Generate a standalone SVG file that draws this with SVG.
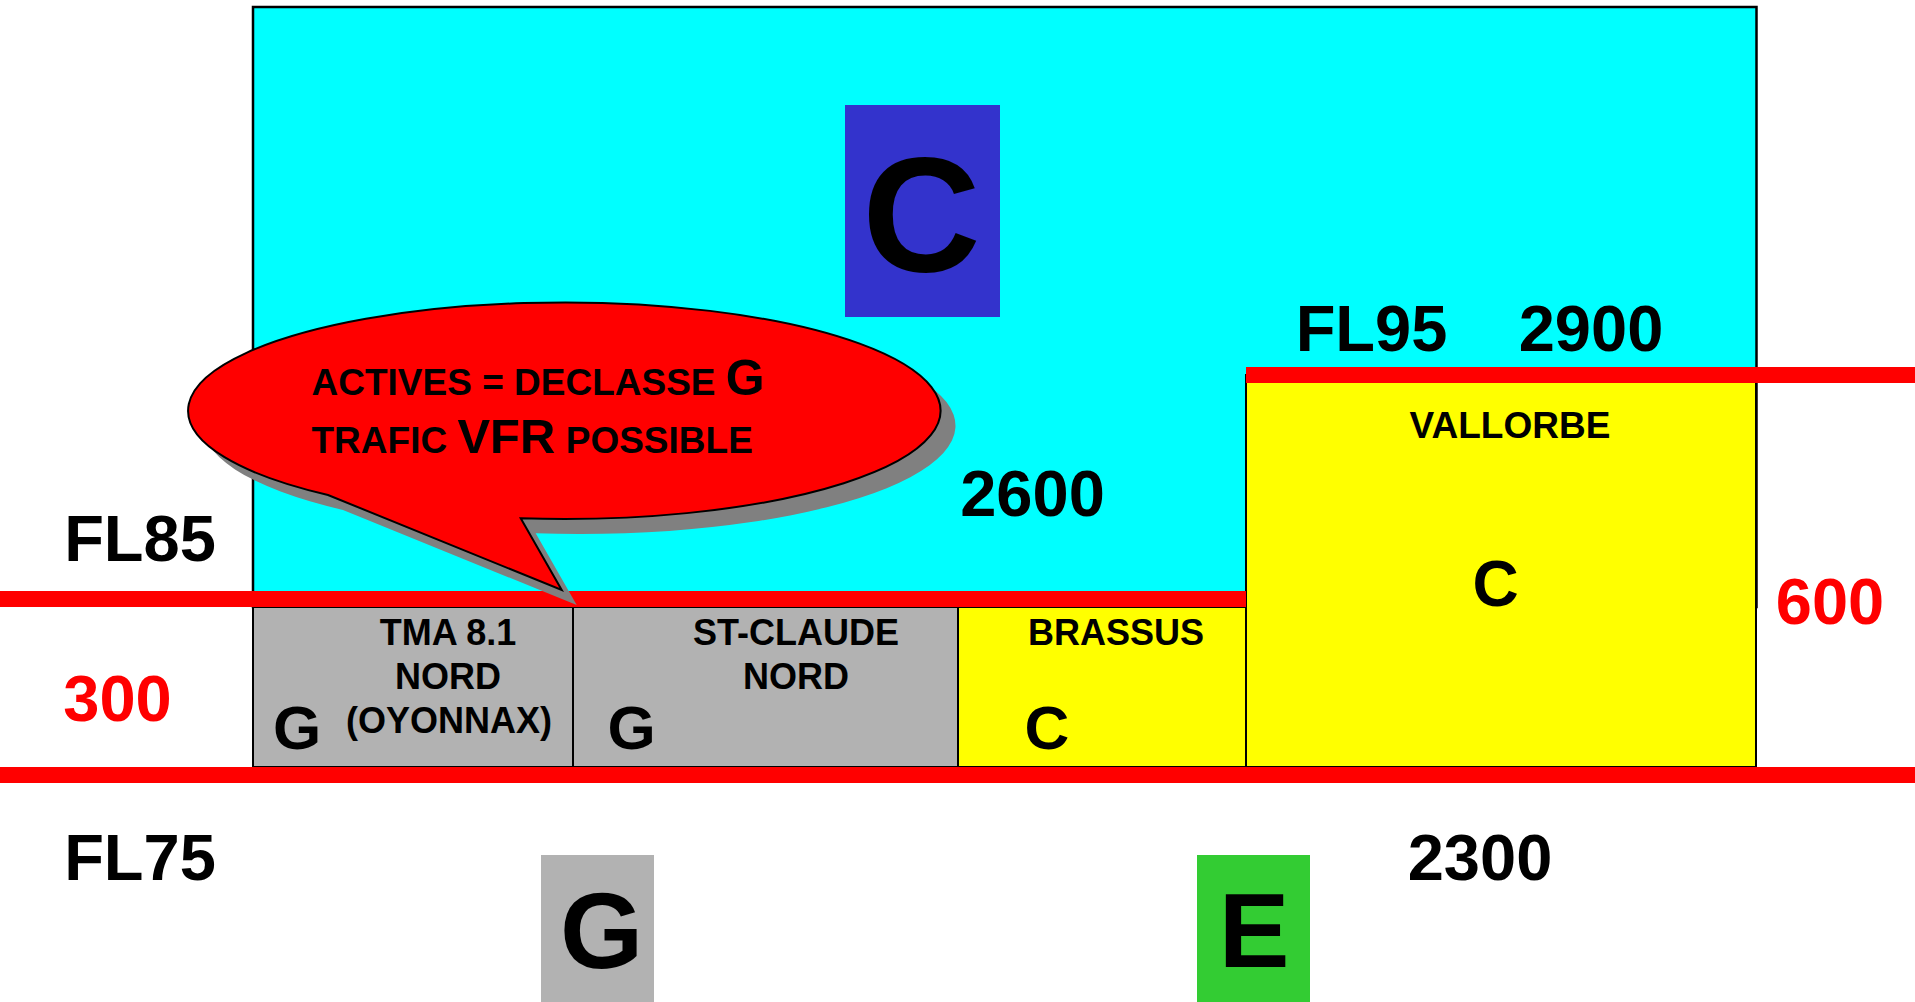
<svg xmlns="http://www.w3.org/2000/svg" width="1915" height="1002" viewBox="0 0 1915 1002">
<style>
text{font-family:"Liberation Sans",Arial,sans-serif;font-weight:bold;fill:#000}
.mid{text-anchor:middle}
.red{fill:#FF0000}
.big{font-size:65px}
.lbl{font-size:37px}
.box{stroke:#000;stroke-width:2}
.grey{fill:#B2B2B2}
.yel{fill:#FFFF00}
.rl{fill:#FF0000}
</style>
<rect width="1915" height="1002" fill="#FFFFFF"/>
<g id="zone-C-upper">
<rect x="253" y="7" width="1503.5" height="600" fill="#00FFFF" stroke="#000" stroke-width="2.5"/>
<rect x="845" y="105" width="155" height="212" fill="#3333CC"/>
<text class="mid" x="921.5" y="271" font-size="164">C</text>
<text class="mid big" x="1032.5" y="516">2600</text>
</g>
<g id="zone-tma81">
<rect class="box grey" x="253" y="607" width="320" height="160"/>
<text class="mid" x="448" y="645" font-size="36">TMA 8.1</text>
<text class="mid" x="448" y="689" font-size="36">NORD</text>
<text class="mid" x="449" y="733" font-size="36">(OYONNAX)</text>
<text class="mid" x="297" y="749" font-size="62">G</text>
</g>
<g id="zone-stclaude">
<rect class="box grey" x="573" y="607" width="385" height="160"/>
<text class="mid" x="796" y="645" font-size="36">ST-CLAUDE</text>
<text class="mid" x="796" y="689" font-size="36">NORD</text>
<text class="mid" x="631.5" y="749" font-size="62">G</text>
</g>
<g id="zone-brassus">
<rect class="box yel" x="958" y="607" width="288" height="160"/>
<text class="mid" x="1116" y="645" font-size="36">BRASSUS</text>
<text class="mid" x="1047" y="749" font-size="62">C</text>
</g>
<g id="zone-vallorbe">
<rect class="box yel" x="1246" y="375" width="510" height="392"/>
<text class="mid" x="1510" y="438" font-size="37">VALLORBE</text>
<text class="mid" x="1495.5" y="606" font-size="64">C</text>
</g>
<g id="levels">
<rect class="rl" x="0" y="591" width="1246" height="16"/>
<rect class="rl" x="1246" y="367" width="669" height="16"/>
<rect class="rl" x="0" y="767" width="1915" height="16"/>
</g>
<g id="level-labels">
<text class="mid big" x="140" y="561">FL85</text>
<text class="mid big" x="140" y="880">FL75</text>
<text class="mid big red" x="117.5" y="721">300</text>
<text class="mid big red" x="1830" y="624">600</text>
<text class="mid big" x="1371.5" y="351">FL95</text>
<text class="mid big" x="1591" y="351">2900</text>
<text class="mid big" x="1480" y="880">2300</text>
</g>
<g id="class-G">
<rect x="541" y="855" width="113" height="147" fill="#B2B2B2"/>
<text class="mid" x="601.5" y="968" font-size="107">G</text>
</g>
<g id="class-E">
<rect x="1197" y="855" width="113" height="147" fill="#33CC33"/>
<text class="mid" x="1254" y="967" font-size="106">E</text>
</g>
<g id="callout">
<path d="M520.7,518.3 L561.7,590 L328,495 A376.2,108.3 0 1 1 520.7,518.3 Z" fill="#808080" transform="translate(15,15)"/>
<path d="M520.7,518.3 L561.7,590 L328,495 A376.2,108.3 0 1 1 520.7,518.3 Z" fill="#FF0000" stroke="#000" stroke-width="2"/>
<text x="311.5" y="395" font-size="37">ACTIVES = DECLASSE <tspan font-size="50">G</tspan></text>
<text x="311.5" y="453" font-size="37">TRAFIC <tspan font-size="49">VFR</tspan> POSSIBLE</text>
</g>
</svg>
